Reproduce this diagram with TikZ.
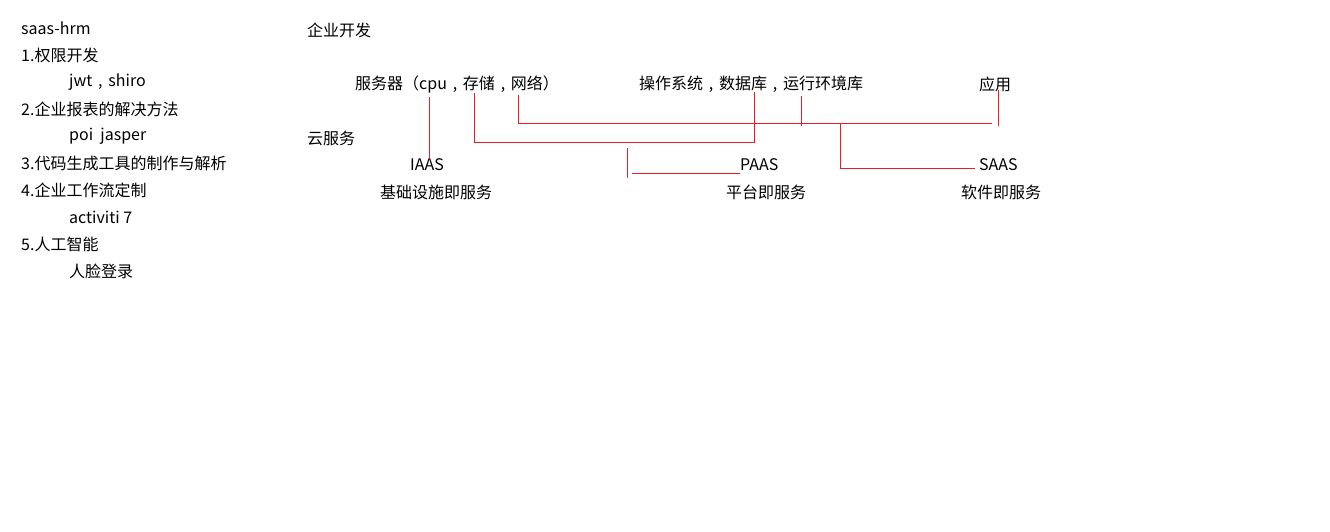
\documentclass[tikz,border=0pt]{standalone}
\usepackage{fontspec}
\setmainfont{Noto Sans CJK SC}
\newfontfamily\punct{Noto Sans CJK TC}
\usepackage{xcolor}
\usepackage{tikz}
\usetikzlibrary{positioning}
\usetikzlibrary{calc}
\definecolor{linered}{RGB}{237,28,36}
\newcommand\zc{\makebox[1em]{,}}
\newcommand\zl{{\punct （}}
\newcommand\zr{{\punct ）}}

\begin{document}
\begin{tikzpicture}[x=1pt, y=-1pt,
	txt/.style={anchor=west, inner sep=0pt, font=\fontsize{16}{19}\selectfont},
	link/.style={draw=linered, line width=1pt}]
	\useasboundingbox (0,0) rectangle (1330,532);
	\newcommand\colOne{21}
	\newcommand\colTwo{69}
	\newcommand\busA{124}
	\newcommand\busB{143}
	\node[txt] (title) at (\colOne,28) {saas-hrm};
	\node[txt] (item1) at (\colOne,55) {1.权限开发};
	\node[txt] (sub1)  at (\colTwo,82) {jwt\zc shiro};
	\node[txt] (item2) at (\colOne,109) {2.企业报表的解决方法};
	\node[txt] (sub2)  at (\colTwo,136) {poi\ \ jasper};
	\node[txt] (item3) at (\colOne,163) {3.代码生成工具的制作与解析};
	\node[txt] (item4) at (\colOne,190) {4.企业工作流定制};
	\node[txt] (sub4)  at (\colTwo,217) {activiti 7};
	\node[txt] (item5) at (\colOne,244) {5.人工智能};
	\node[txt] (sub5)  at (\colTwo,271) {人脸登录};
	\node[txt] (dev)    at (307,30)  {企业开发};
	\node[txt] (server) at (355,84)  {服务器\zl cpu\zc 存储\zc 网络\zr};
	\node[txt] (os)     at (639,84)  {操作系统\zc 数据库\zc 运行环境库};
	\node[txt] (app)    at (979,84)  {应用};
	\node[txt] (cloud)  at (307,138) {云服务};
	\node[txt] (iaas)   at (410,165) {IAAS};
	\node[txt] (iaasCn) at (380,192) {基础设施即服务};
	\node[txt] (paas)   at (740,165) {PAAS};
	\node[txt] (paasCn) at (726,192) {平台即服务};
	\node[txt] (saas)   at (979,165) {SAAS};
	\node[txt] (saasCn) at (961,192) {软件即服务};
	\coordinate (cpu)   at (429,97);
	\coordinate (store) at (474,93);
	\coordinate (net)   at (518,95);
	\coordinate (db)    at (754,92);
	\coordinate (env)   at (801,96);
	\coordinate (use)   at (998,90);
	\coordinate (split) at (840,\busA);
	\coordinate (paasTop)  at (627,148);
	\coordinate (paasLeft) at (632,173);
	\draw[link] (cpu) -- (cpu |- iaas.north);
	\draw[link] (store) -- (store |- 0,\busB) -- (db |- 0,\busB) -- (db);
	\draw[link] (net) |- (992,\busA);
	\draw[link] (env) -- ++(0,30);
	\draw[link] (use) -- ++(0,36);
	\draw[link] (split) |- ($(saas.west)+(-4,3)$);
	\draw[link] (paasTop) -- ++(0,30);
	\draw[link] (paasLeft) -- (paasLeft -| paas.west);
\end{tikzpicture}
\end{document}
